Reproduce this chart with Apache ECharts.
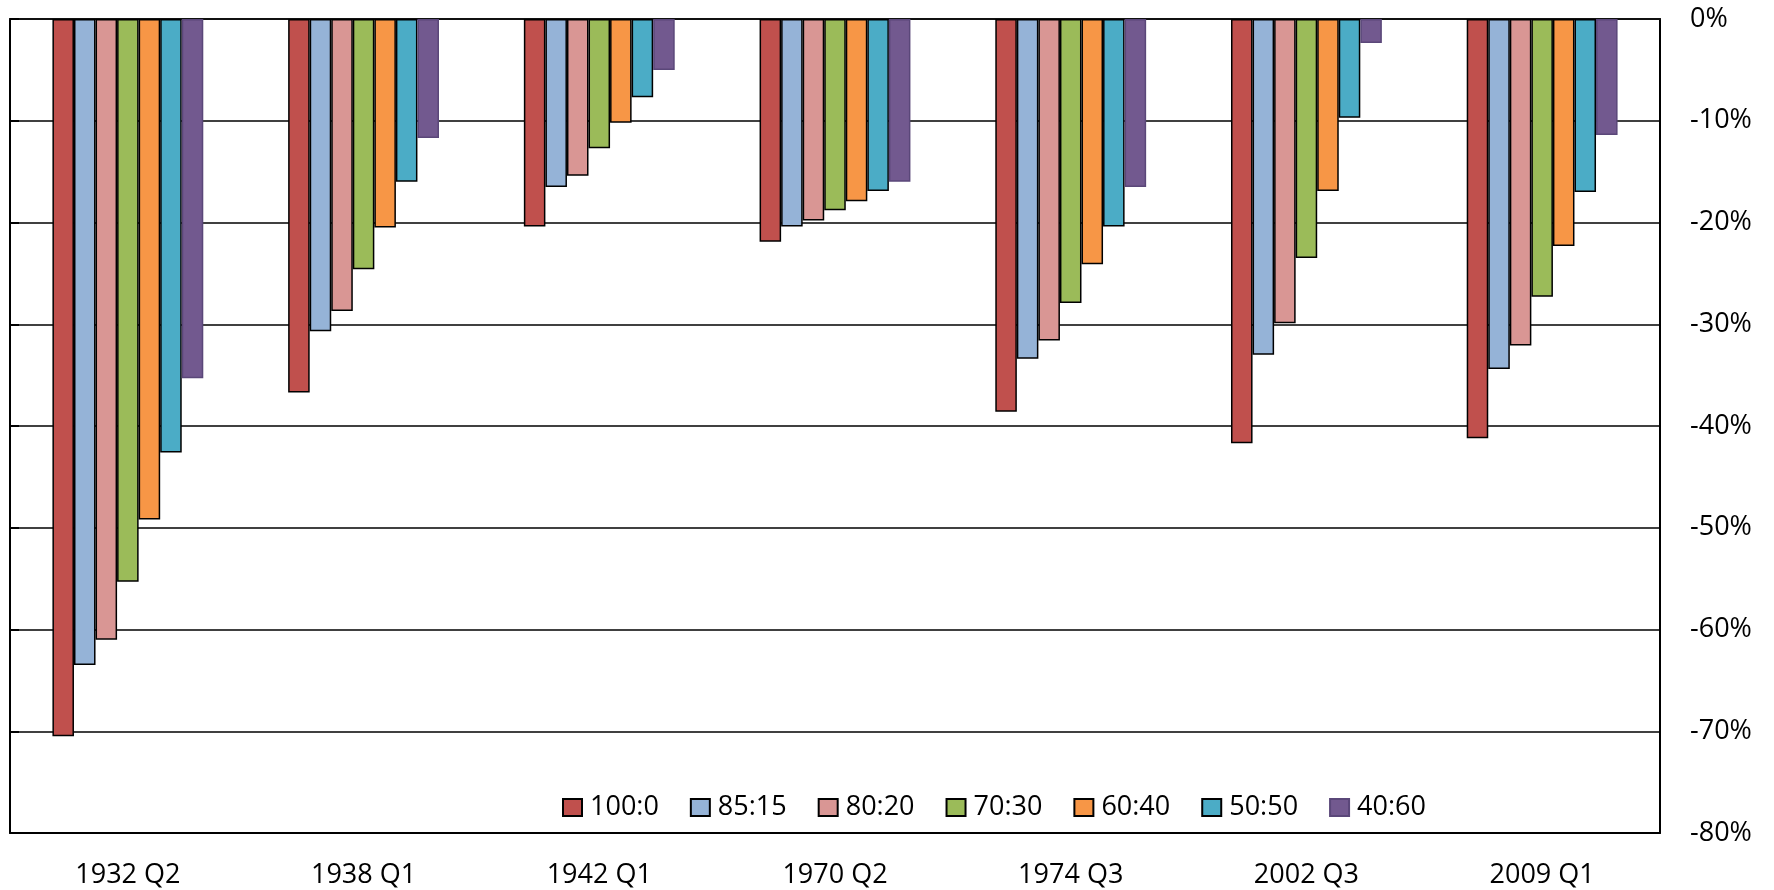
<!DOCTYPE html>
<html>
<head>
<meta charset="utf-8">
<script src="https://cdn.jsdelivr.net/npm/echarts@6/dist/echarts.min.js"></script>
<style>html,body{margin:0;padding:0;background:#fff;}#c{width:1774px;height:890px;}</style>
</head>
<body>
<div id="c"></div>
<script>
const categories = ['1932 Q2','1938 Q1','1942 Q1','1970 Q2','1974 Q3','2002 Q3','2009 Q1'];
const seriesNames = ['100:0','85:15','80:20','70:30','60:40','50:50','40:60'];
const s100_0 = [-70.5, -36.7, -20.4, -21.9, -38.6, -41.7, -41.2];
const s85_15 = [-63.5, -30.7, -16.5, -20.4, -33.4, -33.0, -34.4];
const s80_20 = [-61.0, -28.7, -15.4, -19.8, -31.6, -29.9, -32.1];
const s70_30 = [-55.3, -24.6, -12.7, -18.8, -27.9, -23.5, -27.3];
const s60_40 = [-49.2, -20.5, -10.2, -17.9, -24.1, -16.9, -22.3];
const s50_50 = [-42.6, -16.0, -7.7, -16.9, -20.4, -9.7, -17.0];
const s40_60 = [-35.3, -11.7, -5.0, -16.0, -16.5, -2.35, -11.4];
const yTickValues = [0, -10, -20, -30, -40, -50, -60, -70, -80];
const colors = ['#C0504D','#95B3D7','#D99694','#9BBB59','#F79646','#4BACC6','#72598F'];
const borders = ['#000','#000','#000','#000','#000','#000','#5a4779'];

const allData = [s100_0, s85_15, s80_20, s70_30, s60_40, s50_50, s40_60];
const font = '"Open Sans", sans-serif';

const chart = echarts.init(document.getElementById('c'), null, {renderer: 'canvas'});
chart.setOption({
  animation: false,
  backgroundColor: '#fff',
  grid: {left: 10, right: 114, top: 19, bottom: 57, containLabel: false},
  legend: {
    left: 557, top: 789,
    itemWidth: 19, itemHeight: 17, itemGap: 31,
    icon: 'rect',
    textStyle: {fontFamily: font, fontSize: 27, color: '#000', padding: [0,0,0,3]},
    data: seriesNames
  },
  xAxis: [{
    type: 'category', data: categories, position: 'bottom',
    axisLine: {onZero: false, lineStyle: {color: '#000', width: 2}},
    axisTick: {show: false},
    axisLabel: {fontFamily: font, fontSize: 27, color: '#000', margin: 29}
  }, {
    type: 'category', data: categories, position: 'top',
    axisLine: {onZero: false, lineStyle: {color: '#111', width: 2}},
    axisTick: {show: true, inside: true, alignWithLabel: true, length: 7, lineStyle: {color: '#000', width: 2}},
    axisLabel: {show: false}
  }],
  yAxis: [{
    type: 'value', position: 'right', min: -80, max: 0, interval: 10,
    axisLine: {show: true, lineStyle: {color: '#000', width: 2}},
    axisTick: {show: false},
    splitLine: {show: true, lineStyle: {color: '#000', width: 1.5}},
    axisLabel: {
      fontFamily: font, fontSize: 27, color: '#000', margin: 30,
      formatter: function (v) { return yTickValues.indexOf(v) >= 0 ? v + '%' : ''; }
    }
  }, {
    type: 'value', position: 'left', min: -80, max: 0, interval: 10,
    axisLine: {show: true, lineStyle: {color: '#000', width: 2}},
    axisTick: {show: true, inside: true, length: 9, lineStyle: {color: '#000', width: 2}},
    splitLine: {show: false},
    axisLabel: {show: false}
  }],
  series: seriesNames.map((n, i) => ({
    name: n, type: 'bar', data: allData[i], xAxisIndex: 0, yAxisIndex: 0,
    barGap: '0%', barCategoryGap: '36%',
    itemStyle: {color: colors[i], borderColor: borders[i], borderWidth: 1.5}
  }))
});
</script>
</body>
</html>
